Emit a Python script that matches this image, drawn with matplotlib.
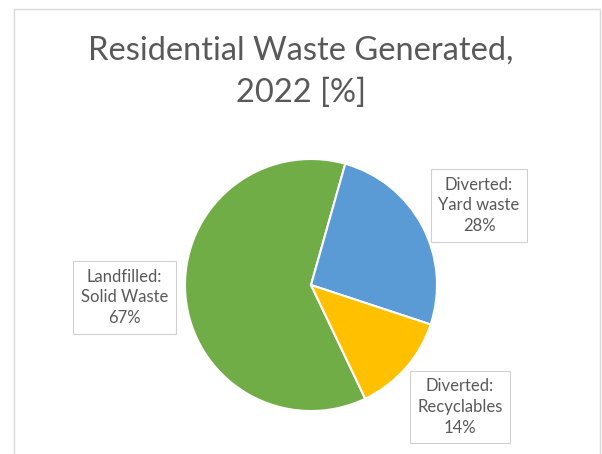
import matplotlib.pyplot as plt
from matplotlib.patches import Rectangle

# residential waste shares, 2022
categories = ['Landfilled:\nSolid Waste', 'Diverted:\nYard waste', 'Diverted:\nRecyclables']
shares = [67, 28, 14]
colors = ['#70AD47', '#5B9BD5', '#FFC000']

plt.rcParams['font.family'] = ['Lato', 'DejaVu Sans']

fig = plt.figure(figsize=(6.02, 4.54), dpi=100)
fig.patch.set_facecolor('white')

# faint chart frame
fig.patches.append(Rectangle((14 / 602, -0.05), 586 / 602, 1 - 9 / 454 + 0.05,
                             transform=fig.transFigure, fill=False,
                             edgecolor='#d9d9d9', linewidth=1))

fig.text(0.5, 1 - 102 / 454, 'Residential Waste Generated,\n2022 [%]',
         ha='center', va='baseline', fontsize=23.5, color='#595959',
         linespacing=1.5)

# square axes centred on the pie (radius 126 px)
cx, cy, r = 311, 285, 126
ax = fig.add_axes([(cx - r) / 602, (454 - cy - r) / 454, 2 * r / 602, 2 * r / 454])
wedges, _ = ax.pie(shares, colors=colors, startangle=295.5, counterclock=False,
                   wedgeprops=dict(edgecolor='white', linewidth=1.5))
ax.set_xlim(-1, 1)
ax.set_ylim(-1, 1)

# callout boxes
label_pos = [(124.5, 297.5), (479, 205.5), (460, 407)]
for name, val, (px, py) in zip(categories, shares, label_pos):
    fig.text(px / 602, 1 - py / 454, f'{name}\n{val}%', ha='center', va='center',
             fontsize=12, color='#595959', linespacing=1.35,
             bbox=dict(boxstyle='square,pad=0.45', facecolor='white',
                       edgecolor='#d0d0d0', linewidth=0.8))

fig.savefig('out.png', dpi=100)
